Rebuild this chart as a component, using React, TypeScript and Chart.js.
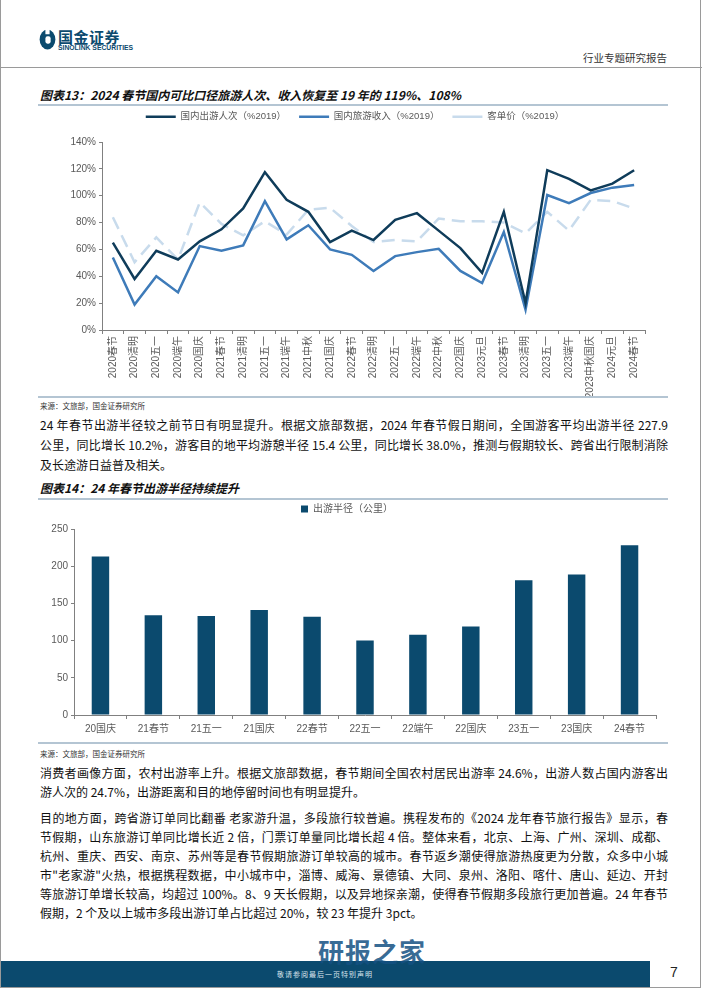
import React, { useEffect, useRef } from "react";
import { Chart, registerables } from "chart.js";

Chart.register(...registerables);

// ---------- Chart 13 data ----------
const lineCategories = [
  "2020春节", "2020清明", "2020五一", "2020端午", "2020国庆",
  "2021春节", "2021清明", "2021五一", "2021端午", "2021中秋", "2021国庆",
  "2022春节", "2022清明", "2022五一", "2022端午", "2022中秋", "2022国庆",
  "2023元旦", "2023春节", "2023清明", "2023五一", "2023端午", "2023中秋国庆",
  "2024元旦", "2024春节",
];
const visitorsPct = [65, 38, 59, 52.5, 66, 75, 90.5, 117.5, 97, 88, 65.5, 74, 67, 82, 87, 74, 61, 42.5, 88, 20, 119, 112.5, 104, 109, 119];
const revenuePct = [54, 19, 40, 28, 62.5, 59, 63, 96, 67.5, 78, 60, 56, 44, 55, 58, 60.5, 44, 35, 73, 15, 100.5, 94.5, 102, 106, 108];
const perCapitaPct = [84, 50.5, 69, 52.5, 95, 79, 70.5, 81, 71, 89.5, 91, 77.5, 65.5, 67, 66, 83, 81, 81, 80, 72, 88, 74, 97, 96, 90.5];
const lineSeriesNames = ["国内出游人次（%2019）", "国内旅游收入（%2019）", "客单价（%2019）"];
const pctTickMax = 140;
const pctTickStep = 20;

// ---------- Chart 14 data ----------
const barCategories = ["20国庆", "21春节", "21五一", "21国庆", "22春节", "22五一", "22端午", "22国庆", "23五一", "23国庆", "24春节"];
const radiusKm = [213, 134, 133, 141, 132, 100, 108, 119, 181, 189, 228];
const barSeriesName = "出游半径（公里）";
const kmTickMax = 250;
const kmTickStep = 50;

const DARK = "#0f3c5a";
const MID = "#3e7bb9";
const LIGHT = "#c8dbec";
const BAR = "#0b4a6e";
const AXIS = "#808080";
const TICK_TXT = "#595959";
const FONT = "'Liberation Sans', 'Noto Sans CJK SC', sans-serif";
const CJK = "'Noto Sans CJK SC', 'Liberation Sans', sans-serif";

const para1 = [
  "24 年春节出游半径较之前节日有明显提升。根据文旅部数据，2024 年春节假日期间，全国游客平均出游半径 227.9",
  "公里，同比增长 10.2%，游客目的地平均游憩半径 15.4 公里，同比增长 38.0%，推测与假期较长、跨省出行限制消除",
  "及长途游日益普及相关。",
];
const para2 = [
  "消费者画像方面，农村出游率上升。根据文旅部数据，春节期间全国农村居民出游率 24.6%，出游人数占国内游客出",
  "游人次的 24.7%，出游距离和目的地停留时间也有明显提升。",
];
const para3 = [
  "目的地方面，跨省游订单同比翻番 老家游升温，多段旅行较普遍。携程发布的《2024 龙年春节旅行报告》显示，春",
  "节假期，山东旅游订单同比增长近 2 倍，门票订单量同比增长超 4 倍。整体来看，北京、上海、广州、深圳、成都、",
  "杭州、重庆、西安、南京、苏州等是春节假期旅游订单较高的城市。春节返乡潮使得旅游热度更为分散，众多中小城",
  "市\"老家游\"火热，根据携程数据，中小城市中，淄博、威海、景德镇、大同、泉州、洛阳、喀什、唐山、延边、开封",
  "等旅游订单增长较高，均超过 100%。8、9 天长假期，以及异地探亲潮，使得春节假期多段旅行更加普遍。24 年春节",
  "假期，2 个及以上城市多段出游订单占比超过 20%，较 23 年提升 3pct。",
];

function Para({ lines, top, gap }: { lines: string[]; top: number; gap: number }) {
  return (
    <>
      {lines.map((t, i) => (
        <div
          key={i}
          style={{
            position: "absolute",
            left: 40,
            width: 628,
            top: top + i * gap,
            fontFamily: CJK,
            fontSize: 12,
            lineHeight: "16px",
            color: "#111",
            textAlign: "justify",
            textAlignLast: i === lines.length - 1 ? "left" : "justify",
          } as React.CSSProperties}
        >
          {t}
        </div>
      ))}
    </>
  );
}

const abs = (s: React.CSSProperties): React.CSSProperties => ({ position: "absolute", ...s });

// fixes the legend box height so the plot area lands where the reference has it
const legendHeight = (h: number) => ({
  id: "legendHeight" + h,
  beforeInit(chart: any) {
    const lg = chart.legend;
    if (!lg) return;
    const orig = lg.fit;
    lg.fit = function () {
      orig.call(this);
      this.height = h;
    };
  },
});

export default function App() {
  const lineRef = useRef<HTMLCanvasElement>(null);
  const barRef = useRef<HTMLCanvasElement>(null);

  useEffect(() => {
    const axisGrid = (len: number) => ({
      display: true,
      drawOnChartArea: false,
      drawTicks: true,
      tickLength: len,
      color: AXIS,
      lineWidth: 1,
    });
    const c1 = new Chart(lineRef.current!, {
      type: "line",
      data: {
        labels: lineCategories,
        datasets: [
          { label: lineSeriesNames[0], data: visitorsPct, borderColor: DARK, backgroundColor: DARK, borderWidth: 2.5, pointRadius: 0, tension: 0 },
          { label: lineSeriesNames[1], data: revenuePct, borderColor: MID, backgroundColor: MID, borderWidth: 2.5, pointRadius: 0, tension: 0 },
          { label: lineSeriesNames[2], data: perCapitaPct, borderColor: LIGHT, backgroundColor: LIGHT, borderWidth: 2.5, borderDash: [13, 7], pointRadius: 0, tension: 0 },
        ],
      },
      plugins: [legendHeight(43)],
      options: {
        animation: false,
        responsive: false,
        maintainAspectRatio: false,
        layout: { padding: { left: 0, right: 23, top: 0, bottom: 0 } },
        plugins: {
          tooltip: { enabled: false },
          legend: {
            position: "top",
            labels: {
              usePointStyle: true,
              pointStyle: "line",
              pointStyleWidth: 30,
              color: TICK_TXT,
              font: { family: FONT, size: 9.5 },
              padding: 13,
              boxHeight: 9,
            },
          },
        },
        scales: {
          x: {
            offset: true,
            grid: { ...axisGrid(4), offset: true },
            border: { display: true, color: AXIS },
            ticks: { autoSkip: false, maxRotation: 90, minRotation: 90, color: TICK_TXT, font: { family: FONT, size: 10 }, padding: 2 },
            afterFit: (s: any) => { s.height = 66; },
          },
          y: {
            min: 0,
            max: pctTickMax,
            grid: axisGrid(3),
            border: { display: true, color: AXIS },
            ticks: { stepSize: pctTickStep, color: TICK_TXT, font: { family: FONT, size: 10 }, callback: (v: any) => v + "%" },
            afterFit: (s: any) => { s.width = 37; },
          },
        },
      },
    } as any);

    const c2 = new Chart(barRef.current!, {
      type: "bar",
      data: {
        labels: barCategories,
        datasets: [
          { label: barSeriesName, data: radiusKm, backgroundColor: BAR, borderWidth: 0, barPercentage: 0.66, categoryPercentage: 0.5 },
        ],
      },
      plugins: [legendHeight(28)],
      options: {
        animation: false,
        responsive: false,
        maintainAspectRatio: false,
        layout: { padding: { left: 0, right: 12, top: 0, bottom: 0 } },
        plugins: {
          tooltip: { enabled: false },
          legend: {
            position: "top",
            labels: { boxWidth: 7, boxHeight: 7, color: TICK_TXT, font: { family: FONT, size: 10 }, padding: 3 },
          },
        },
        scales: {
          x: {
            grid: { ...axisGrid(4), offset: true },
            border: { display: true, color: AXIS },
            ticks: { color: TICK_TXT, font: { family: FONT, size: 10 }, padding: 4 },
            afterFit: (s: any) => { s.height = 26; },
          },
          y: {
            min: 0,
            max: kmTickMax,
            grid: axisGrid(3),
            border: { display: true, color: AXIS },
            ticks: { stepSize: kmTickStep, color: TICK_TXT, font: { family: FONT, size: 10 } },
            afterFit: (s: any) => { s.width = 36; },
          },
        },
      },
    } as any);

    return () => {
      c1.destroy();
      c2.destroy();
    };
  }, []);

  const titleStyle: React.CSSProperties = {
    fontFamily: CJK,
    fontSize: 12,
    fontWeight: 700,
    fontStyle: "italic",
    color: "#111",
    whiteSpace: "nowrap",
  };
  const rule: React.CSSProperties = { left: 38, width: 630, height: 2, background: "#b4c5d3" };
  const source: React.CSSProperties = { left: 40, fontFamily: CJK, fontSize: 7.5, color: "#333", whiteSpace: "nowrap" };

  return (
    <div style={abs({ left: 0, top: 0, width: 702, height: 991, background: "#fff", overflow: "hidden" })}>
      {/* page frame */}
      <div style={abs({ left: 0, top: 0, width: 699, height: 987, borderLeft: "1px solid #9a9a9a", borderRight: "1px solid #9a9a9a", borderBottom: "1px solid #9a9a9a" })} />

      {/* header */}
      <svg style={abs({ left: 39, top: 29 })} width="17" height="21" viewBox="0 0 16 20">
        <ellipse cx="8" cy="10" rx="7.5" ry="9.5" fill="#0b4a6e" />
        <rect x="6" y="0" width="4" height="5" fill="#fff" />
        <rect x="6" y="7" width="5" height="7" rx="2" fill="#fff" />
      </svg>
      <div style={abs({ left: 58, top: 28, fontFamily: CJK, fontSize: 15, fontWeight: 700, color: "#0b4a6e", letterSpacing: 0.5, lineHeight: "18px" })}>国金证券</div>
      <div style={abs({ left: 58, top: 44, fontFamily: FONT, fontSize: 6.8, fontWeight: 700, color: "#0b4a6e", lineHeight: "8px", whiteSpace: "nowrap" })}>SINOLINK SECURITIES</div>
      <div style={abs({ left: 583, top: 50, fontFamily: CJK, fontSize: 10.5, color: "#333", lineHeight: "16px" })}>行业专题研究报告</div>
      <div style={abs({ left: 0, top: 67, width: 702, height: 1, background: "#9a9a9a" })} />

      {/* figure 13 */}
      <div style={abs({ left: 40, top: 86, ...titleStyle })}>图表13：2024 春节国内可比口径旅游人次、收入恢复至 19 年的 119%、108%</div>
      <div style={abs({ top: 104, ...rule })} />
      <canvas ref={lineRef} width={603} height={297} style={abs({ left: 65, top: 99, width: 603, height: 297 })} />
      <div style={abs({ top: 396, ...rule })} />
      <div style={abs({ top: 400, ...source })}>来源：文旅部，国金证券研究所</div>

      <Para lines={para1} top={417} gap={20} />

      {/* figure 14 */}
      <div style={abs({ left: 40, top: 479, ...titleStyle })}>图表14：24 年春节出游半径持续提升</div>
      <div style={abs({ top: 498, ...rule })} />
      <canvas ref={barRef} width={630} height={240} style={abs({ left: 38, top: 501, width: 630, height: 240 })} />
      <div style={abs({ top: 742, ...rule })} />
      <div style={abs({ top: 748, ...source })}>来源：文旅部，国金证券研究所</div>

      <Para lines={para2} top={765} gap={19} />
      <Para lines={para3} top={810} gap={19} />

      {/* footer */}
      <div style={abs({ left: 1, top: 961, width: 649, height: 26, background: "#0b4a6e" })} />
      <div style={abs({ left: 277, top: 969, fontFamily: CJK, fontSize: 7, color: "#d8e3ec", whiteSpace: "nowrap", letterSpacing: 1 })}>敬请参阅最后一页特别声明</div>
      <div style={abs({ left: 670, top: 964, fontFamily: FONT, fontSize: 14, color: "#222" })}>7</div>
      <div style={abs({ left: 318, top: 932, fontFamily: CJK, fontSize: 26, fontWeight: 700, color: "rgba(20,80,130,0.85)", whiteSpace: "nowrap", letterSpacing: 1 })}>研报之家</div>
    </div>
  );
}
